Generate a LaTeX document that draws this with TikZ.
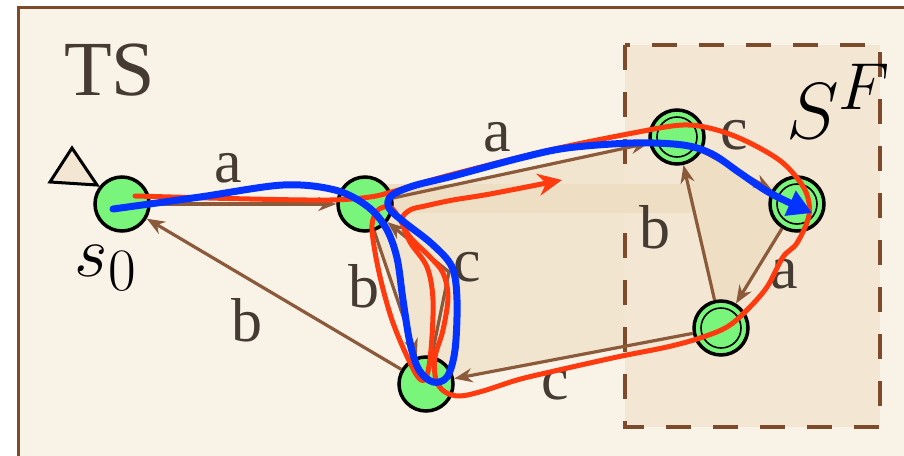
\documentclass[tikz,border=0pt]{standalone}
\usepackage{graphicx}
\usepackage{xcolor}
\usepackage{fontspec}
\newfontfamily\lblfont{Liberation Serif}
\usetikzlibrary{arrows.meta, positioning, calc}

\definecolor{framebrown}{HTML}{7D4A2B}
\definecolor{edgebrown}{HTML}{8A5A3B}
\definecolor{paper}{HTML}{F9F2E7}
\definecolor{finalbg}{HTML}{F3E7D4}
\definecolor{tint}{HTML}{F2E5D0}
\definecolor{band}{HTML}{EEDEC4}
\definecolor{stategreen}{HTML}{78F57A}
\definecolor{labelgray}{HTML}{463B33}
\definecolor{runred}{HTML}{FF3A0E}
\definecolor{runblue}{HTML}{0433FF}

\pgfdeclarelayer{bg}
\pgfsetlayers{bg,main}

\newcommand{\bigmath}[2]{\scalebox{#1}{\fontsize{24.88}{30}\selectfont$#2$}}

\begin{document}
\begin{tikzpicture}[x=1pt, y=-1pt]
% Define styles
\tikzstyle{state} = [circle, draw=black, line width=3.5pt, fill=stategreen, minimum size=54pt, inner sep=0pt]
\tikzstyle{final} = [state, path picture={\draw[line width=1.6pt] (path picture bounding box.center) circle (20pt);}]
\tikzstyle{edge} = [draw=edgebrown, line width=3.2pt, -{Stealth[length=18pt, width=14pt]}]
\tikzstyle{lbl} = [text=labelgray, font=\lblfont\fontsize{62}{62}\selectfont, inner sep=0pt]
\tikzstyle{mathlbl} = [text=black, inner sep=0pt]
\tikzstyle{run} = [line width=5pt, line cap=round, line join=round]

\useasboundingbox (0,0) rectangle (904,455);
\clip (0,0) rectangle (904,455);

% States
\node[state] (s0) at (122,204) {};
\node[state] (s1) at (365,204) {};
\node[state] (s2) at (426,384) {};
\node[final] (sc) at (677,137) {};
\node[final] (sf) at (797,204) {};
\node[final] (s4) at (721,328) {};
\coordinate (ckink) at (449,272);

% Background, final set and tinted region
\begin{pgfonlayer}{bg}
\fill[white] (0,0) rectangle (904,455);
\draw[framebrown, line width=3pt, fill=paper] (18.5,7.5) rectangle (930,480);
\fill[tint] (s1.center) -- (sc.center) -- (sf.center) -- (s4.center) -- (s2.center) -- cycle;
\draw[framebrown, line width=4.5pt, dash pattern=on 25pt off 22pt, fill=finalbg] (625,45) rectangle (880,427);
\fill[band] (sc.center) -- (sf.center) -- (s4.center) -- cycle;
\fill[band] (380,184) rectangle (775,213);
\end{pgfonlayer}

% Initial marker
\draw[line width=3pt, fill=finalbg, line join=miter] (72,148) -- (50,182) -- (97,185) -- cycle;

% Transitions
\draw[edge] (s0) -- (s1);
\draw[edge] (s2) -- (s0);
\draw[edge] (s1) -- (s2);
\draw[edge] (s2) -- (ckink) -- (s1);
\draw[edge] (s1) -- (sc);
\draw[edge] (sc) -- (sf);
\draw[edge] (s4) -- (sc);
\draw[edge] (sf) -- (s4);
\draw[edge] (s4) -- (s2);

% Labels
\node[lbl] (la1) at (228,168) {a};
\node[lbl] (lb1) at (247,320) {b};
\node[lbl] (lb2) at (364,286) {b};
\node[lbl] (lc1) at (467,267) {c};
\node[lbl] (la2) at (497,137) {a};
\node[lbl] (lc2) at (734,135) {c};
\node[lbl] (lb3) at (655,227) {b};
\node[lbl] (la3) at (784,274) {a};
\node[lbl] (lc3) at (555,385) {c};
\node[lbl, anchor=base west, font=\lblfont\fontsize{78}{78}\selectfont] (ts) at (64,95) {TS};
\node[mathlbl] (s0name) at (106,268) {\bigmath{2.9}{s_0}};
\node[mathlbl, anchor=base west] (sfname) at (786,138) {\bigmath{3.2}{S^F}};

% Runs
\draw[run, runred, -{Stealth[length=24pt, width=22pt]}] plot[smooth, tension=0.55] coordinates {
  (135,196) (250,199) (330,200) (370,197) (395,191) (450,175) (550,150) (633,133)
  (683,125) (717,130) (750,143) (783,163) (805,190) (809,215) (797,243) (783,257)
  (767,287) (747,310) (727,327) (700,338) (667,347) (617,357) (550,372) (517,380)
  (483,391) (460,396) (445,392) (436,380) (435,357) (443,330) (448,297) (443,273)
  (430,257) (410,237) (399,218) (390,207) (378,210) (372,225) (375,252) (382,285)
  (392,320) (405,352) (418,377) (426,378) (431,350) (433,300) (427,267) (410,242)
  (402,220) (410,210) (425,206) (453,200) (490,194) (562,180)};
\draw[run, runblue, line width=7pt, -{Triangle[length=24pt, width=26pt]}] plot[smooth, tension=0.55] coordinates {
  (113,209) (200,197) (283,185) (335,190) (367,206) (386,228) (397,258) (403,300)
  (410,343) (419,370) (433,382) (447,377) (455,350) (457,300) (452,267) (432,244)
  (404,222) (389,208) (391,196) (413,186) (453,176) (520,158) (567,148) (633,143)
  (683,145) (712,154) (740,173) (770,193) (812,213)};
\end{tikzpicture}
\end{document}
